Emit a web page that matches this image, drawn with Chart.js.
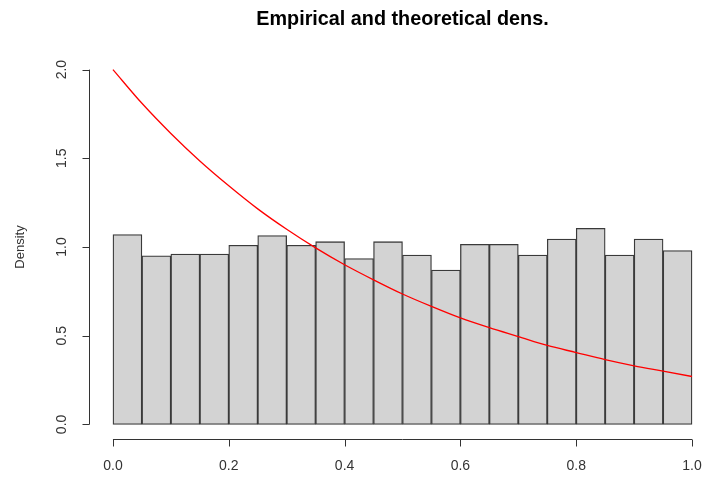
<!DOCTYPE html>
<html>
<head>
<meta charset="utf-8">
<script src="https://cdn.jsdelivr.net/npm/chart.js@4/dist/chart.umd.min.js"></script>
<style>
  html, body { margin: 0; padding: 0; background: #ffffff; }
  #wrap { width: 708px; height: 485px; position: relative; }
</style>
</head>
<body>
<div id="wrap"><canvas id="chart" width="708" height="485"></canvas></div>
<script>
// Histogram bins (midpoints) and their densities
const binMids = [0.025, 0.075, 0.125, 0.175, 0.225, 0.275, 0.325, 0.375, 0.425, 0.475,
                 0.525, 0.575, 0.625, 0.675, 0.725, 0.775, 0.825, 0.875, 0.925, 0.975];
const binDensity = [1.07, 0.95, 0.96, 0.96, 1.01, 1.065, 1.01, 1.03, 0.935, 1.03,
                    0.955, 0.87, 1.015, 1.015, 0.955, 1.045, 1.105, 0.955, 1.045, 0.98];

// Theoretical density curve
const curveX = [0, 0.05, 0.1, 0.15, 0.2, 0.25, 0.3, 0.35, 0.4, 0.45, 0.5,
                0.55, 0.6, 0.65, 0.7, 0.75, 0.8, 0.85, 0.9, 0.95, 1.0];
const curveY = [2.00, 1.81, 1.64, 1.485, 1.345, 1.215, 1.10, 0.995, 0.90, 0.815, 0.735,
                0.665, 0.60, 0.545, 0.495, 0.445, 0.405, 0.365, 0.33, 0.30, 0.27];

// Axis ticks
const xTicks = [0, 0.2, 0.4, 0.6, 0.8, 1.0];
const xTickLabels = ['0.0', '0.2', '0.4', '0.6', '0.8', '1.0'];
const yTicks = [0, 0.5, 1.0, 1.5, 2.0];
const yTickLabels = ['0.0', '0.5', '1.0', '1.5', '2.0'];

const titleText = 'Empirical and theoretical dens.';
const yTitle = 'Density';

const FONT = '"Liberation Sans", Arial, Helvetica, sans-serif';

// R-style detached axes, title and axis label
const rAxes = {
  id: 'rAxes',
  afterDraw(chart) {
    const ctx = chart.ctx;
    const xs = chart.scales.x, ys = chart.scales.y;
    const area = chart.chartArea;
    ctx.save();
    ctx.strokeStyle = '#333';
    ctx.lineWidth = 1;
    ctx.fillStyle = '#333';

    // x axis
    const ay = Math.round(area.bottom) + 0.5;
    ctx.beginPath();
    ctx.moveTo(xs.getPixelForValue(xTicks[0]), ay);
    ctx.lineTo(xs.getPixelForValue(xTicks[xTicks.length - 1]), ay);
    xTicks.forEach(v => {
      const px = Math.round(xs.getPixelForValue(v)) + 0.5;
      ctx.moveTo(px, ay);
      ctx.lineTo(px, ay + 7);
    });
    ctx.stroke();
    ctx.font = '14px ' + FONT;
    ctx.textAlign = 'center';
    ctx.textBaseline = 'middle';
    xTicks.forEach((v, i) => {
      ctx.fillText(xTickLabels[i], xs.getPixelForValue(v), 466);
    });

    // y axis
    const ax = Math.round(area.left) - 0.5;
    ctx.beginPath();
    ctx.moveTo(ax, ys.getPixelForValue(yTicks[0]));
    ctx.lineTo(ax, ys.getPixelForValue(yTicks[yTicks.length - 1]));
    yTicks.forEach(v => {
      const py = Math.round(ys.getPixelForValue(v)) + 0.5;
      ctx.moveTo(ax, py);
      ctx.lineTo(ax - 7, py);
    });
    ctx.stroke();
    yTicks.forEach((v, i) => {
      ctx.save();
      ctx.translate(62, ys.getPixelForValue(v));
      ctx.rotate(-Math.PI / 2);
      ctx.fillText(yTickLabels[i], 0, 0);
      ctx.restore();
    });

    // y axis title
    ctx.save();
    ctx.font = '13px ' + FONT;
    ctx.translate(20, ys.getPixelForValue(1.0));
    ctx.rotate(-Math.PI / 2);
    ctx.fillText(yTitle, 0, 0);
    ctx.restore();

    // main title
    ctx.fillStyle = '#000';
    ctx.font = 'bold 19.8px ' + FONT;
    ctx.fillText(titleText, xs.getPixelForValue(0.5), 20);
    ctx.restore();
  }
};

new Chart(document.getElementById('chart'), {
  type: 'bar',
  data: {
    datasets: [
      {
        type: 'line',
        label: 'theoretical',
        data: curveX.map((x, i) => ({ x: x, y: curveY[i] })),
        borderColor: '#ff0000',
        borderWidth: 1.3,
        pointRadius: 0,
        cubicInterpolationMode: 'monotone',
        fill: false,
        order: 0
      },
      {
        type: 'bar',
        label: 'empirical',
        data: binMids.map((x, i) => ({ x: x, y: binDensity[i] })),
        backgroundColor: '#d3d3d3',
        borderColor: '#3a3a3a',
        borderWidth: 1.3,
        borderSkipped: false,
        barPercentage: 1.0,
        categoryPercentage: 1.0,
        order: 1
      }
    ]
  },
  options: {
    responsive: false,
    animation: false,
    devicePixelRatio: 1,
    layout: { padding: { left: 89.8, right: 0, top: 55.4, bottom: 46.4 } },
    plugins: {
      legend: { display: false },
      title: { display: false },
      tooltip: { enabled: false }
    },
    scales: {
      x: {
        type: 'linear',
        display: false,
        offset: false,
        grid: { offset: false },
        min: -0.04,
        max: 1.0276,
        afterBuildTicks: (s) => { s.ticks = xTicks.map(v => ({ value: v })); }
      },
      y: {
        type: 'linear',
        display: false,
        min: -0.08,
        max: 2.08
      }
    }
  },
  plugins: [rAxes]
});
</script>
</body>
</html>
